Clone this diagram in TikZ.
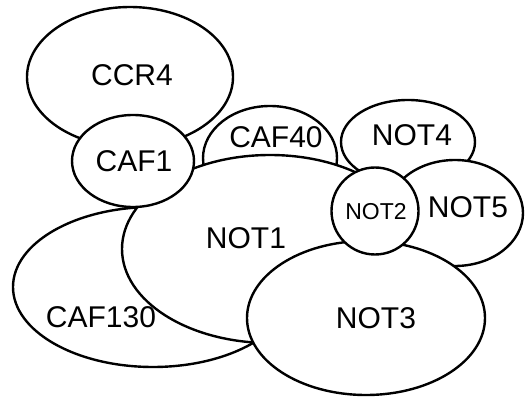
\documentclass[tikz,border=0pt]{standalone}
\usepackage{fontspec}
\setmainfont{Liberation Sans}
\usetikzlibrary{shapes.geometric}
\begin{document}
\begin{tikzpicture}[x=1pt,y=-1pt,
  blob/.style={ellipse,draw=black,fill=white,line width=2.4pt,inner sep=0pt},
  lbl/.style={inner sep=0pt,font=\fontsize{30}{32}\selectfont},
  slbl/.style={inner sep=0pt,font=\fontsize{23}{25}\selectfont}]
\useasboundingbox (0,0) rectangle (525,398);
\node[blob,minimum width=206pt,minimum height=140pt] (ccr4) at (130,77) {};
\node[blob,minimum width=134pt,minimum height=104pt] (caf40) at (270,158) {};
\node[blob,minimum width=280pt,minimum height=160pt] (caf130) at (153,287) {};
\node[blob,minimum width=296pt,minimum height=188pt] (not1) at (270,249) {};
\node[blob,minimum width=134pt,minimum height=84pt] (not4) at (408,142) {};
\node[blob,minimum width=136pt,minimum height=106pt] (not5) at (455,213) {};
\node[blob,minimum width=238pt,minimum height=154pt] (not3) at (366,318) {};
\node[blob,minimum width=122pt,minimum height=92pt] (caf1) at (133,161) {};
\node[blob,minimum width=87pt,minimum height=87pt] (not2) at (375,211) {};
\node[lbl] (tccr4) at (132,75) {CCR4};
\node[lbl] (tcaf1) at (134,161) {CAF1};
\node[lbl] (tcaf40) at (276,137) {CAF40};
\node[lbl] (tnot4) at (412,135) {NOT4};
\node[slbl] (tnot2) at (376,212) {NOT2};
\node[lbl] (tnot5) at (468,207) {NOT5};
\node[lbl] (tnot1) at (246,238) {NOT1};
\node[lbl] (tcaf130) at (101,317) {CAF130};
\node[lbl] (tnot3) at (376,318) {NOT3};
\end{tikzpicture}
\end{document}
